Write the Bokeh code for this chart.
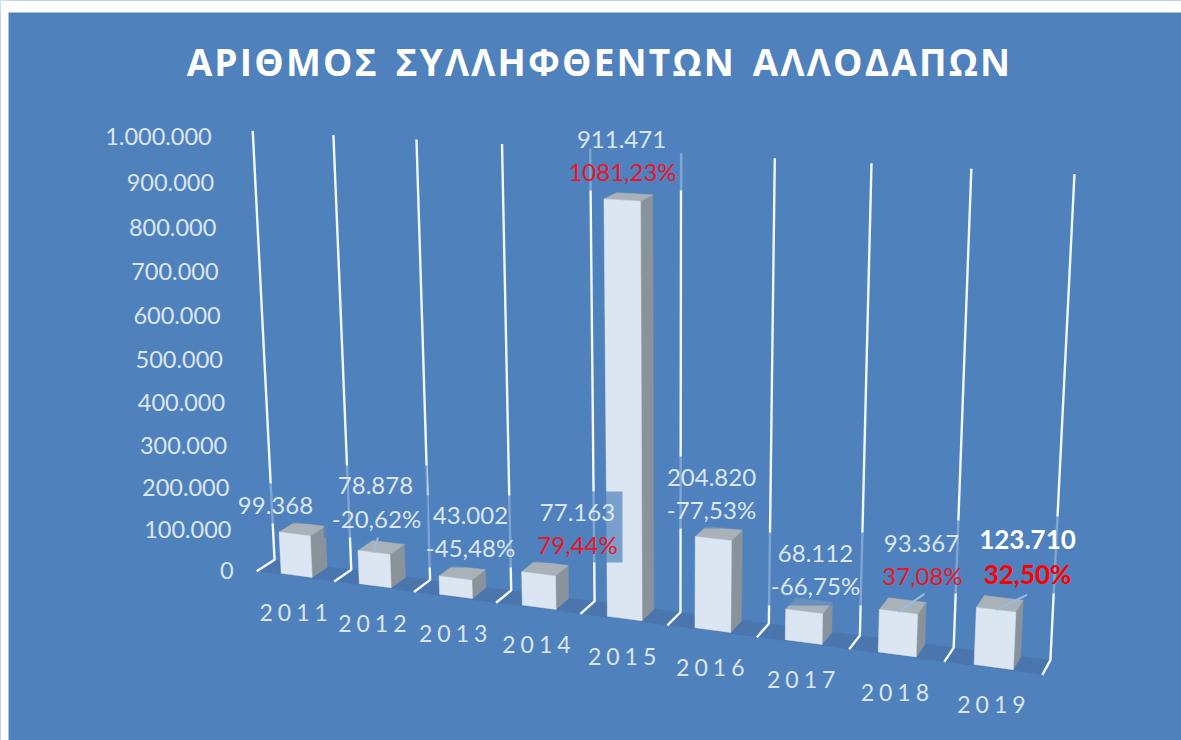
import numpy as np
from bokeh.plotting import figure
from bokeh.models import Range1d, CustomJS
from bokeh.document import Document
from bokeh.embed import file_html
from bokeh.resources import INLINE
from bokeh.core.properties import value as bv

title = "ΑΡΙΘΜΟΣ ΣΥΛΛΗΦΘΕΝΤΩΝ ΑΛΛΟΔΑΠΩΝ"
years = ["2011", "2012", "2013", "2014", "2015", "2016", "2017", "2018", "2019"]
arrested = [99368, 78878, 43002, 77163, 911471, 204820, 68112, 93367, 123710]
value_labels = ["99.368", "78.878", "43.002", "77.163", "911.471", "204.820", "68.112", "93.367", "123.710"]
change_labels = [None, "-20,62%", "-45,48%", "79,44%", "1081,23%", "-77,53%", "-66,75%", "37,08%", "32,50%"]
tick_values = [0, 100000, 200000, 300000, 400000, 500000, 600000, 700000, 800000, 900000, 1000000]
tick_labels = ["0", "100.000", "200.000", "300.000", "400.000", "500.000", "600.000", "700.000", "800.000", "900.000", "1.000.000"]
axis_max = 1000000

# ---- camera calibration: (category, value fraction, depth) -> page pixel
CAMERA_POINTS = [
    (0, 0, 0, 274, 559), (3, 0, 0, 511, 590), (6, 0, 0, 768, 623), (9, 0, 0, 1050, 660),
    (0, 0, 1, 256, 571), (3, 0, 1, 496, 602), (6, 0, 1, 756, 637), (9, 0, 1, 1042, 674),
    (0, 1, 0, 252, 130), (3, 1, 0, 502, 144), (6, 1, 0, 774, 158), (9, 1, 0, 1074, 173),
]
A, b = [], []
for u, v, w, x, y in CAMERA_POINTS:
    A.append([u, v, w, 1, 0, 0, 0, 0, -x * u, -x * v, -x * w]); b.append(x)
    A.append([0, 0, 0, 0, u, v, w, 1, -y * u, -y * v, -y * w]); b.append(y)
P = np.append(np.linalg.lstsq(np.array(A, float), np.array(b, float), rcond=None)[0], 1.0).reshape(3, 4)


def project(u, v, w):
    h = P @ np.array([u, v, w, 1.0])
    return float(h[0] / h[2]), float(h[1] / h[2])


def poly(points):
    pts = [project(*q) for q in points]
    return [q[0] for q in pts], [q[1] for q in pts]


BG = "#4f81bd"
FLOOR = "#4a75ad"
FRONT = "#dce6f2"
TOP = "#a9b1b9"
SIDE = "#8a939b"
TXT = "#dce6f2"
RED = "#ea1527"
FONT = "Lato"

p = figure(width=1181, height=740, x_range=Range1d(0, 1181), y_range=Range1d(740, 0),
           x_axis_type=None, y_axis_type=None, toolbar_location=None, output_backend="svg",
           min_border=0, outline_line_color=None, background_fill_color=BG, border_fill_color=BG)
p.grid.visible = False

# white strips around the panel
p.quad(left=[0], right=[1181], top=[0], bottom=[12], fill_color="white", line_color=None)
p.quad(left=[0], right=[8], top=[0], bottom=[740], fill_color="white", line_color=None)

# floor
n = len(years)
fx, fy = poly([(0, 0, 0), (n, 0, 0), (n, 0, 1), (0, 0, 1)])
p.patch(fx, fy, fill_color=FLOOR, line_color=None)

# wall / floor grid lines
gx, gy = [], []
for k in range(n + 1):
    x, y = poly([(k, 0, 1), (k, 0, 0), (k, 1, 0)])
    gx.append(x); gy.append(y)
p.multi_line(gx, gy, line_color="#f4f7fb", line_width=2.4)

# bars
U0, U1, W0, W1 = 0.30, 0.70, 0.05, 0.92
for i, val in enumerate(arrested):
    v = val / axis_max
    a, c = i + U0, i + U1
    x, y = poly([(c, 0, W1), (c, 0, W0), (c, v, W0), (c, v, W1)])
    p.patch(x, y, fill_color=SIDE, line_color=SIDE, line_width=0.5)
    x, y = poly([(a, v, W1), (c, v, W1), (c, v, W0), (a, v, W0)])
    p.patch(x, y, fill_color=TOP, line_color=TOP, line_width=0.5)
    x, y = poly([(a, 0, W1), (c, 0, W1), (c, v, W1), (a, v, W1)])
    p.patch(x, y, fill_color=FRONT, line_color=FRONT, line_width=0.5)

# translucent boxes behind the data labels
box_l = [227, 323, 425, 533, 565, 661, 767, 876, 977]
box_r = [323, 427, 515, 622, 682, 760, 865, 966, 1077]
box_t = [483, 465, 495, 491, 125, 456, 532, 520, 516]
box_b = [523, 537, 567, 562, 190, 528, 605, 593, 593]
p.quad(left=box_l, right=box_r, top=box_t, bottom=box_b, fill_color=BG, fill_alpha=0.7, line_color=None)

# leader lines from bars
for i, dx, dy in [(1, 4, -15), (7, 26, -18), (8, 31, -15)]:
    x0, y0 = project(i + 0.5, arrested[i] / axis_max, W1)
    p.line([x0, x0 + dx], [y0, y0 + dy], line_color="#9dbae0", line_width=2)

# value axis labels
tx, ty = [], []
for t in tick_values:
    f = t / axis_max
    x, y = project(0, f, 0)
    tx.append(x - 41); ty.append(y + 11 - 5 * f)
p.text(tx, ty, text=tick_labels, text_font=bv(FONT), text_font_size="23.5px", text_color=TXT,
       text_align="right", text_baseline="middle")

# category labels (the added letter spacing of 4 x 5px runs to the right, hence the -10)
cx, cy = [], []
for i in range(n):
    x, y = project(i + 0.5, 0, 1)
    cx.append(x + 1 - 10); cy.append(y + 36.5)
p.text(cx, cy, text=years, text_font=bv(FONT), text_font_size="23px", text_color=TXT,
       text_align="center", text_baseline="middle")

# data labels
val_x = [275, 375, 470, 577, 621, 711, 815, 921, 1027]
val_y = [505, 485, 515, 512, 139, 477, 553, 543, 539]
chg_x = [None, 376, 470, 577, 622, 711, 815, 922, 1027]
chg_y = [None, 518, 547, 544, 171, 509, 585, 575, 573]
red_idx = {3, 4, 7}
for i in range(n):
    bold = i == n - 1
    p.text([val_x[i]], [val_y[i]], text=[value_labels[i]], text_font=bv(FONT),
           text_font_size="26px" if bold else "24px", text_font_style="bold" if bold else "normal",
           text_color="white" if bold else TXT, text_align="center", text_baseline="middle")
    if change_labels[i] is None:
        continue
    col = "#ff0000" if bold else (RED if i in red_idx else TXT)
    p.text([chg_x[i]], [chg_y[i]], text=[change_labels[i]], text_font=bv(FONT),
           text_font_size="26px" if bold else "24px", text_font_style="bold" if bold else "normal",
           text_color=col, text_align="center", text_baseline="middle")

# title
p.text([561], [61], text=[title], text_font=bv("Open Sans"), text_font_size="37px", text_font_style="bold",
       text_color="white", text_align="center", text_baseline="middle")

# letter spacing of the title and of the year labels (Bokeh text has no such property)
spacing = CustomJS(code="""
function walk(root) {
  root.querySelectorAll('*').forEach(function (e) {
    if (e.shadowRoot) walk(e.shadowRoot);
    if (e.tagName.toLowerCase() === 'text') {
      if (/^20\\d\\d$/.test(e.textContent)) e.style.letterSpacing = '5px';
      if (e.textContent.indexOf('ΑΡΙΘΜΟΣ') === 0) { e.style.letterSpacing = '2.2px'; e.style.wordSpacing = '5px'; }
    }
  });
}
[0, 100, 400, 1000, 2000].forEach(function (t) { setTimeout(function () { walk(document); }, t); });
""")
doc = Document()
doc.add_root(p)
doc.js_on_event("document_ready", spacing)

open("out.html", "w").write(file_html(doc, INLINE))
